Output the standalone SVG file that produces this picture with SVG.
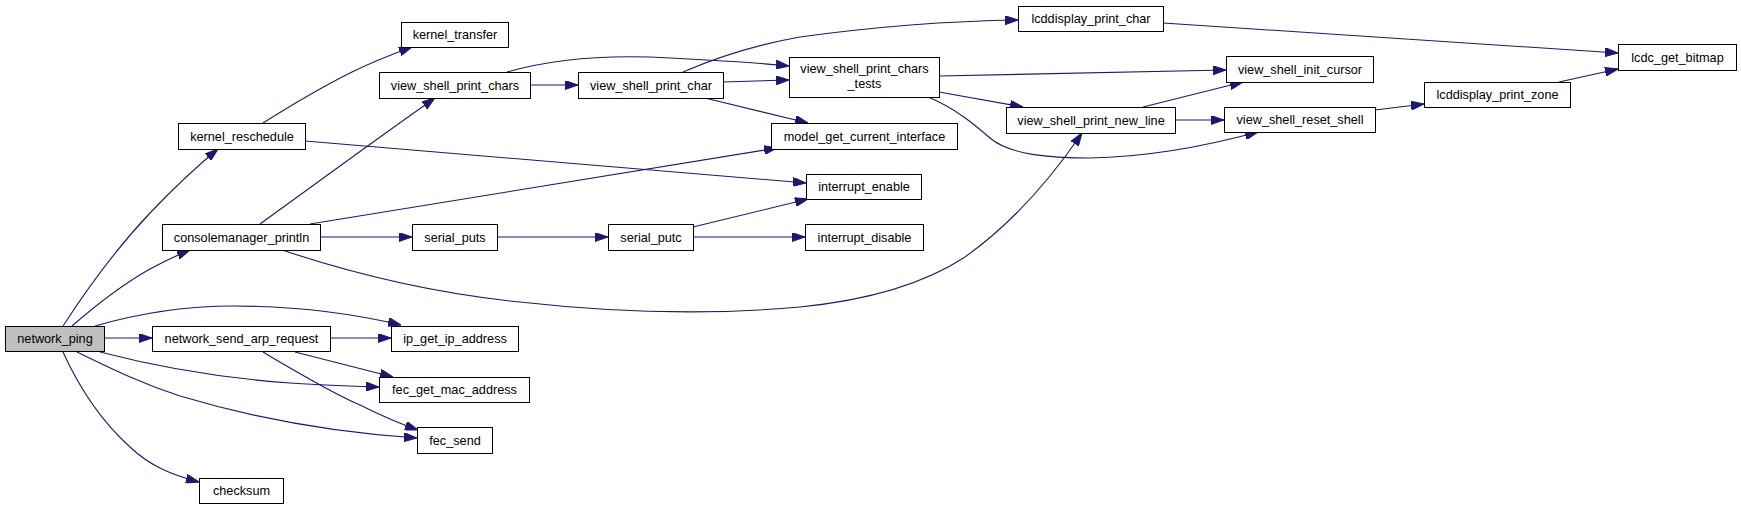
<svg xmlns="http://www.w3.org/2000/svg" width="1741" height="509" viewBox="0 0 1741 509">
<style>
.n rect{fill:#fff;stroke:#000;stroke-width:1}
.n.root rect{fill:#bfbfbf}
.n text{font-family:"Liberation Sans",Arial,sans-serif;font-size:12.7px;fill:#000;text-anchor:middle}
.e path{fill:none;stroke:#191970;stroke-width:1.1;marker-end:url(#ah)}
</style>
<defs>
<marker id="ah" markerWidth="13" markerHeight="9" refX="13" refY="4.5" orient="auto" markerUnits="userSpaceOnUse">
<path d="M0,0 L13,4.5 L0,9 z" fill="#191970" stroke="#191970" stroke-width="1"/>
</marker>
</defs>
<rect width="1741" height="509" fill="#fff"/>
<g id="edges" class="e">
<path d="M63,326 C85,292 115,250 150,213 C170,192 190,172 218,149"/>
<path d="M72,326 C95,306 125,283 150,269 C163,262 175,256 190,250"/>
<path d="M95,326 C140,313 190,306 233,306 C290,306 350,313 401,325"/>
<path d="M104,338 L152,338"/>
<path d="M100,352 C150,365 220,378 290,383 C320,385 350,386 379,387"/>
<path d="M77,352 C110,368 140,383 180,396 C260,420 340,433 417,438"/>
<path d="M63,352 C78,385 100,420 130,447 C150,466 172,475 199,482"/>
<path d="M330,338 L391,338"/>
<path d="M295,352 L393,377"/>
<path d="M263,352 C290,368 330,392 360,405 C380,415 398,423 418,430"/>
<path d="M263,123 C290,106 320,88 350,73 C370,63 390,55 412,47"/>
<path d="M305,141 L806,183"/>
<path d="M260,224 C310,188 375,140 435,98"/>
<path d="M310,224 L777,148"/>
<path d="M320,237 L412,237"/>
<path d="M282,250 C360,276 440,294 520,302 C600,311 700,316 800,307 C880,299 930,280 965,257 C1010,225 1050,180 1082,133"/>
<path d="M497,237 L608,237"/>
<path d="M693,227 L808,199"/>
<path d="M693,237 L805,237"/>
<path d="M530,85 L578,85"/>
<path d="M507,72 C560,57 620,55 670,58 C710,60 750,62 789,66"/>
<path d="M683,72 C720,56 760,44 800,37 C880,26 950,21 1018,20"/>
<path d="M723,82 L789,80"/>
<path d="M705,98 L808,123"/>
<path d="M939,76 L1226,70"/>
<path d="M939,92 L1023,107"/>
<path d="M928,97 C955,108 975,125 990,138 C1010,155 1050,158 1090,158 C1150,157 1210,145 1258,132"/>
<path d="M1143,107 L1243,82"/>
<path d="M1175,120 L1224,120"/>
<path d="M1375,110 L1424,104"/>
<path d="M1559,82 L1618,69"/>
<path d="M1163,23 L1618,53"/>
</g>
<g id="network_ping" class="n root"><rect x="5.5" y="326.5" width="99" height="25"/><text x="55" y="343">network_ping</text></g>
<g id="kernel_reschedule" class="n"><rect x="178.5" y="123.5" width="127" height="26"/><text x="242" y="141">kernel_reschedule</text></g>
<g id="kernel_transfer" class="n"><rect x="401.5" y="22.5" width="107" height="25"/><text x="455" y="39">kernel_transfer</text></g>
<g id="consolemanager_println" class="n"><rect x="162.5" y="224.5" width="158" height="26"/><text x="241.5" y="242">consolemanager_println</text></g>
<g id="network_send_arp_request" class="n"><rect x="152.5" y="326.5" width="178" height="25"/><text x="241.5" y="343">network_send_arp_request</text></g>
<g id="checksum" class="n"><rect x="199.5" y="478.5" width="84" height="25"/><text x="241.5" y="495">checksum</text></g>
<g id="view_shell_print_chars" class="n"><rect x="379.5" y="72.5" width="151" height="26"/><text x="455" y="90">view_shell_print_chars</text></g>
<g id="view_shell_print_char" class="n"><rect x="578.5" y="72.5" width="145" height="26"/><text x="651" y="90">view_shell_print_char</text></g>
<g id="serial_puts" class="n"><rect x="412.5" y="224.5" width="85" height="26"/><text x="455" y="242">serial_puts</text></g>
<g id="serial_putc" class="n"><rect x="608.5" y="224.5" width="85" height="26"/><text x="651" y="242">serial_putc</text></g>
<g id="ip_get_ip_address" class="n"><rect x="391.5" y="326.5" width="127" height="25"/><text x="455" y="343">ip_get_ip_address</text></g>
<g id="fec_get_mac_address" class="n"><rect x="379.5" y="377.5" width="150" height="25"/><text x="454.5" y="394">fec_get_mac_address</text></g>
<g id="fec_send" class="n"><rect x="417.5" y="427.5" width="75" height="26"/><text x="455" y="445">fec_send</text></g>
<g id="lcddisplay_print_char" class="n"><rect x="1018.5" y="6.5" width="145" height="25"/><text x="1091" y="23">lcddisplay_print_char</text></g>
<g id="view_shell_print_chars_tests" class="n"><rect x="789.5" y="57.5" width="150" height="40"/><text x="864.5" y="73">view_shell_print_chars</text><text x="864.5" y="88">_tests</text></g>
<g id="model_get_current_interface" class="n"><rect x="771.5" y="123.5" width="186" height="26"/><text x="864.5" y="141">model_get_current_interface</text></g>
<g id="interrupt_enable" class="n"><rect x="806.5" y="174.5" width="115" height="25"/><text x="864" y="191">interrupt_enable</text></g>
<g id="interrupt_disable" class="n"><rect x="805.5" y="224.5" width="118" height="26"/><text x="864.5" y="242">interrupt_disable</text></g>
<g id="view_shell_print_new_line" class="n"><rect x="1006.5" y="107.5" width="169" height="26"/><text x="1091" y="125">view_shell_print_new_line</text></g>
<g id="view_shell_init_cursor" class="n"><rect x="1226.5" y="56.5" width="147" height="26"/><text x="1300" y="74">view_shell_init_cursor</text></g>
<g id="view_shell_reset_shell" class="n"><rect x="1224.5" y="107.5" width="151" height="25"/><text x="1300" y="124">view_shell_reset_shell</text></g>
<g id="lcddisplay_print_zone" class="n"><rect x="1424.5" y="82.5" width="146" height="25"/><text x="1497.5" y="99">lcddisplay_print_zone</text></g>
<g id="lcdc_get_bitmap" class="n"><rect x="1618.5" y="44.5" width="118" height="26"/><text x="1677.5" y="62">lcdc_get_bitmap</text></g>
</svg>
